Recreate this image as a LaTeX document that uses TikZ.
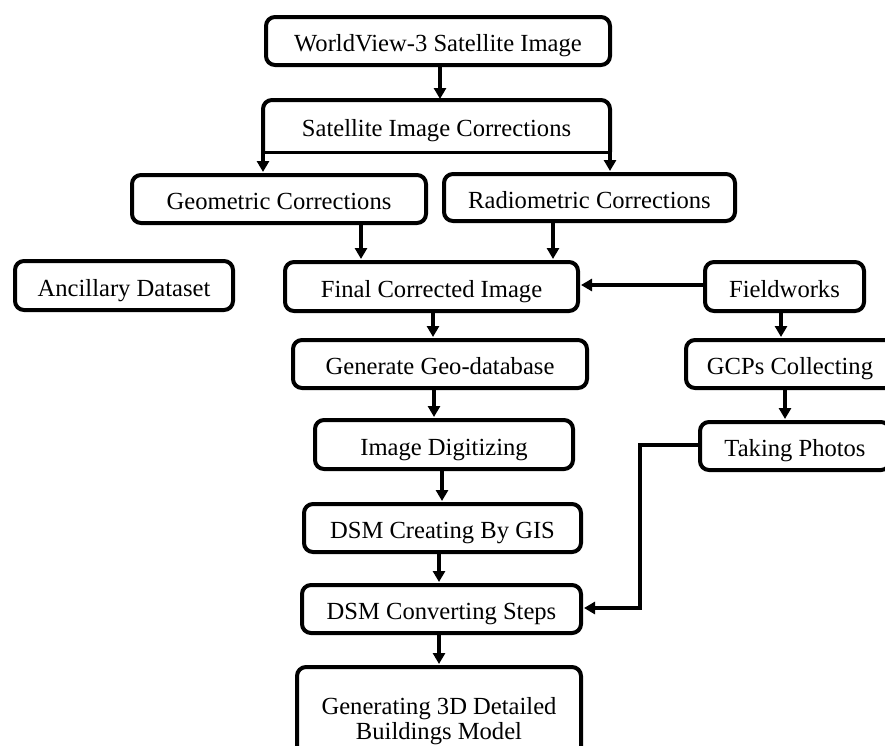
\documentclass[tikz,border=0pt]{standalone}
\usepackage{fontspec}
\setmainfont{Liberation Serif}
\usetikzlibrary{arrows.meta}
\begin{document}
\begin{tikzpicture}[x=1pt,y=-1pt,
  box/.style={draw, line width=4pt, rounded corners=9pt, inner sep=0pt, align=center,
    font=\fontsize{24.6}{25}\selectfont, text height=22pt, text depth=1pt},
  arr/.style={line width=3.5pt, -{Triangle[width=12pt,length=11pt]}, shorten >=1pt},
]
\useasboundingbox (0,0) rectangle (885,745);
\clip (0,0) rectangle (885,745);

\node[box, minimum width=344pt, minimum height=48pt] (wv) at (438,41) {WorldView-3 Satellite Image};
\node[box, draw=none, minimum width=343pt, minimum height=48pt] (sic) at (436.5,126) {Satellite Image Corrections};
\node[box, minimum width=294pt, minimum height=48pt] (geo) at (279,199) {Geometric Corrections};
\node[box, minimum width=291pt, minimum height=47pt] (rad) at (589.5,197.5) {Radiometric Corrections};
\node[box, minimum width=218pt, minimum height=49pt] (anc) at (124,285.5) {Ancillary Dataset};
\node[box, minimum width=293pt, minimum height=49pt] (fin) at (431.5,286.5) {Final Corrected Image};
\node[box, minimum width=159pt, minimum height=49pt] (fld) at (784.5,286.5) {Fieldworks};
\node[box, minimum width=208pt, minimum height=48pt] (gcp) at (790,364) {GCPs Collecting};
\node[box, minimum width=190pt, minimum height=48pt] (tak) at (795,446) {Taking Photos};
\node[box, minimum width=294pt, minimum height=48pt] (gdb) at (440,364) {Generate Geo-database};
\node[box, minimum width=258pt, minimum height=49pt] (dig) at (444,444.5) {Image Digitizing};
\node[box, minimum width=277pt, minimum height=48pt] (dsc) at (442.5,528) {DSM Creating By GIS};
\node[box, minimum width=279pt, minimum height=48pt] (dcv) at (441.5,609) {DSM Converting Steps};
\node[box, text height={}, text depth={}, minimum width=284pt, minimum height=108pt] (g3d) at (439,721) {Generating 3D Detailed\\Buildings Model};

% open box of Satellite Image Corrections
\draw[line width=4pt, rounded corners=9pt] (sic.south west) -- (sic.north west) -- (sic.north east) -- (sic.south east);
\draw[line width=3pt] (sic.south west) -- (sic.south east);

\draw[arr] ([xshift=2pt]wv.south) -- ([xshift=2pt]wv.south |- sic.north);
\draw[arr] (sic.south west) -- (sic.south west |- geo.north);
\draw[arr] (sic.south east) -- (sic.south east |- rad.north);
\draw[arr] ([xshift=82pt,yshift=3pt]geo.south) -- ([xshift=82pt]geo.south |- fin.north);
\draw[arr] ([xshift=-36.5pt,yshift=4pt]rad.south) -- ([xshift=-36.5pt]rad.south |- fin.north);
\draw[arr] ([yshift=1.5pt]fld.west) -- ([yshift=1.5pt]fin.east);
\draw[arr] ([xshift=1.5pt]fin.south) -- ([xshift=1.5pt]fin.south |- gdb.north);
\draw[arr] ([xshift=-6pt]gdb.south) -- ([xshift=-6pt]gdb.south |- dig.north);
\draw[arr] ([xshift=-2pt]dig.south) -- ([xshift=-2pt]dig.south |- dsc.north);
\draw[arr] ([xshift=-3.5pt]dsc.south) -- ([xshift=-3.5pt]dsc.south |- dcv.north);
\draw[arr] ([xshift=-2.5pt]dcv.south) -- ([xshift=-2.5pt]dcv.south |- g3d.north);
\draw[arr] ([xshift=-3.5pt]fld.south) -- ([xshift=-3.5pt]fld.south |- gcp.north);
\draw[arr] ([xshift=-5pt]gcp.south) -- ([xshift=-5pt]gcp.south |- tak.north);

\coordinate (bend) at (640,0);
\draw[arr] ([yshift=1pt]tak.west) -- ([yshift=1pt]tak.west -| bend) -- ([yshift=1pt]bend |- dcv.east) -- ([yshift=1pt]dcv.east);
\end{tikzpicture}
\end{document}
